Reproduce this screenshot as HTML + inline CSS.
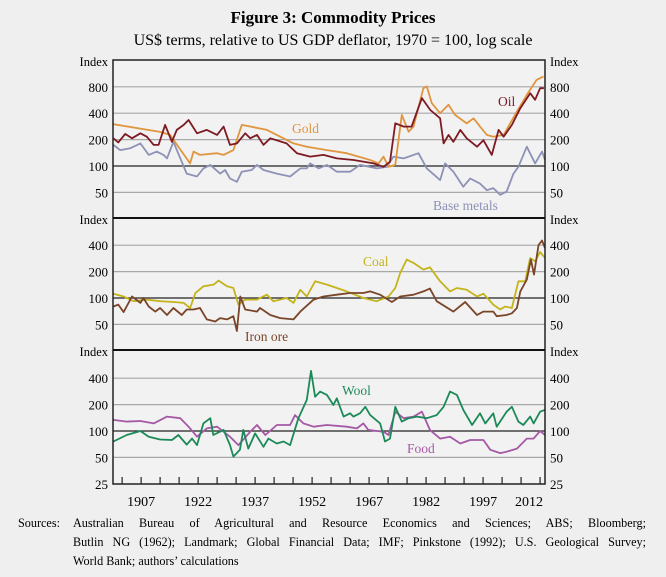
<!DOCTYPE html>
<html><head><meta charset="utf-8"><style>
html,body{margin:0;padding:0;background:#efefef;}
body{width:666px;height:577px;position:relative;overflow:hidden;font-family:"Liberation Serif",serif;color:#000;}
#title{position:absolute;left:0;width:666px;top:8px;text-align:center;font-weight:bold;font-size:17px;}
#subtitle{position:absolute;left:0;width:666px;top:32px;text-align:center;font-size:16px;}
#sources{position:absolute;left:18px;top:514px;width:628px;font-size:12.2px;line-height:19px;}
#sources .lab{position:absolute;left:0;top:0;}
#sources .txt{margin-left:55px;}
#sources .ln{text-align:justify;text-align-last:justify;white-space:nowrap;}
#sources .ln.last{text-align-last:left;}
svg{position:absolute;left:0;top:0;}
</style></head><body>
<div id="title">Figure 3: Commodity Prices</div>
<div id="subtitle">US$ terms, relative to US GDP deflator, 1970 = 100, log scale</div>
<svg id="chart" width="666" height="577"></svg>
<div id="sources"><span class="lab">Sources:</span><div class="txt"><div class="ln" style="white-space:normal">Australian Bureau of Agricultural and Resource Economics and Sciences; ABS; Bloomberg;</div><div class="ln" style="white-space:normal">Butlin NG (1962); Landmark; Global Financial Data; IMF; Pinkstone (1992); U.S. Geological Survey;</div><div class="ln last">World Bank; authors’ calculations</div></div></div>
<script>
const xTicks=[1907,1922,1937,1952,1967,1982,1997,2012];
const p1Ticks=[50,100,200,400,800];
const p2Ticks=[50,100,200,400];
const p3Ticks=[25,50,100,200,400];
const goldYears=[1899.7,1912,1914.6,1919.9,1920.8,1922.5,1927,1928.7,1931.3,1933.5,1935.7,1940.1,1942.7,1947.1,1950.6,1955.9,1961.1,1967.3,1969.5,1970.8,1972.1,1973.9,1975.6,1977.4,1978.7,1981.3,1982.2,1983.5,1985.7,1987.9,1989.6,1992.7,1994.5,1996.2,1998,1999.7,2002.4,2005.9,2008.5,2011.1,2012.9];
const goldVals=[300,245,226,107,146,134,140,134,152,294,282,258,226,181,166,152,140,117,107,128,98,103,383,246,281,772,808,520,400,500,383,306,350,281,226,216,226,417,646,960,1050];
const oilYears=[1899.7,1901,1902.8,1904.6,1906.8,1908.5,1910.3,1911.6,1913.3,1915.1,1916.4,1918.2,1919.5,1921.7,1924.3,1927,1928.7,1930.4,1932.2,1934.4,1935.7,1937.5,1939.2,1941,1945.3,1948,1951.5,1955,1958.5,1962.9,1968.2,1970.8,1972.5,1973.9,1976.1,1978.2,1980.9,1983.1,1985.7,1986.6,1987.9,1989.2,1991,1992.7,1995.4,1997.1,1999.3,2001.1,2002.4,2004.6,2006.8,2009.4,2010.7,2012,2013];
const oilVals=[207,186,232,207,236,216,174,174,294,189,258,294,335,236,258,226,281,174,181,236,207,226,174,207,181,140,128,134,122,117,107,98,112,307,281,281,594,435,350,181,226,189,258,207,166,197,134,258,216,294,456,676,568,772,772];
const metalYears=[1899.7,1901.5,1904.1,1906.8,1909,1911.1,1912.9,1913.8,1915.5,1919,1921.7,1923.4,1925.2,1927.8,1929.1,1930.4,1932.2,1933.5,1936.1,1937.5,1939.2,1942.7,1946.2,1948.9,1950.6,1951.5,1953.7,1955.9,1958.5,1962,1964.6,1969,1971.7,1973.4,1976.1,1980,1982.2,1985.7,1987,1989.2,1991.8,1993.6,1996.2,1998,1999.7,2001.5,2003.2,2005,2006.3,2008.5,2010.7,2012.5,2013.3];
const metalVals=[174,152,159,181,134,146,134,122,189,82,76,94,103,82,90,72,66,86,90,103,90,82,76,94,94,107,94,103,86,86,103,94,98,128,122,140,94,69,107,86,58,72,63,53,56,47,51,82,98,166,107,146,117];
const coalYears=[1899.7,1902.4,1905,1908.5,1912,1915.5,1918.2,1919.9,1921.3,1923.4,1926.1,1927.4,1929.6,1931.3,1932.6,1934.4,1937.5,1940.1,1941.8,1945.3,1947.1,1948.9,1950.6,1952.8,1955.9,1961.1,1965.5,1969,1972.1,1973.9,1975.2,1976.9,1978.7,1981.3,1983,1985.7,1988.3,1990.1,1992.7,1995.4,1997.1,1999.7,2001.5,2002.8,2004.6,2006.3,2008.1,2009.4,2010.7,2012,2013.3];
const coalVals=[112,104,92,96,92,90,88,77,114,136,142,158,136,130,84,96,96,109,92,100,88,124,104,155,142,119,100,92,104,130,193,274,251,211,224,155,119,130,124,104,112,84,74,80,77,155,155,286,262,335,286];
const ironYears=[1899.7,1901,1902.4,1904.6,1906.8,1907.6,1909,1910.7,1912,1913.8,1915.5,1917.7,1919,1920.8,1922.5,1924.3,1926.5,1927.8,1929.6,1931.3,1932.2,1933.1,1934.4,1937.5,1938.3,1941,1943.6,1947.1,1948.9,1952.4,1955,1958.5,1962,1965.5,1967.3,1969.9,1973,1975.2,1978.7,1981.3,1983,1984.8,1989.2,1992.3,1995.4,1997.1,1999.7,2000.6,2003.2,2004.6,2005.9,2006.8,2008.5,2009.6,2010.4,2011.6,2012.5,2013.3];
const ironVals=[80,84,69,104,88,100,80,70,77,64,77,64,74,74,77,57,54,59,57,62,42,104,74,70,77,64,59,57,70,96,104,109,114,114,119,109,90,104,109,119,128,92,70,90,64,70,70,62,64,67,77,119,162,274,185,400,452,372];
const woolYears=[1899.7,1903.2,1906.8,1909,1912,1915.1,1916.8,1919,1920.4,1921.7,1923.4,1925.2,1926,1928.7,1930.4,1931.3,1933,1933.9,1935.2,1937,1939.2,1940.5,1942.7,1944.5,1946.2,1948.4,1950.6,1951.7,1952.8,1954.1,1955.9,1957.6,1958.5,1960.3,1962,1962.9,1964.6,1966,1967.3,1969.9,1971.2,1972.5,1973.9,1975.6,1977.4,1979.6,1982.2,1984.8,1986.6,1988.3,1990.1,1991.8,1994.1,1996.2,1997.6,1999.7,2000.6,2003.2,2004.6,2006.3,2007.6,2009.4,2010.3,2012,2013.3];
const woolVals=[76,90,100,86,80,79,90,70,82,69,122,140,90,103,69,51,61,103,63,94,66,82,72,76,69,140,226,484,246,281,258,198,236,146,159,146,159,189,152,122,76,82,189,128,140,146,140,152,189,281,258,174,117,159,122,159,112,166,189,128,117,146,122,166,174];
const foodYears=[1899.7,1903.2,1906.8,1910.3,1913.8,1917.3,1919.5,1921.7,1924.3,1927,1930.4,1932.6,1935.7,1937.5,1939.7,1942.7,1946.2,1947.5,1949.7,1952.4,1955.9,1961.1,1963.8,1965.5,1966.8,1970.8,1972.1,1973.9,1976.1,1978.7,1980.9,1983,1985.7,1988.3,1991,1993.6,1997.1,1998.9,2001.5,2003.2,2005.9,2008.5,2010.3,2012,2013.3];
const foodVals=[134,128,130,122,146,140,112,86,107,112,86,69,98,117,90,117,117,152,122,112,117,112,107,122,103,98,90,166,140,146,166,103,82,86,72,79,79,61,56,58,63,82,82,100,90];

const svg=document.getElementById('chart');
const NS='http://www.w3.org/2000/svg';
const L=113,R=545,Y0=1899.6,Y1=2013.3;
const x=yr=>L+(yr-Y0)*(R-L)/(Y1-Y0);
const panels=[{top:60,bot:218,y100:166},{top:218,bot:350,y100:298},{top:350,bot:484,y100:431}];
const PX=26.4;
const yf=(p,v)=>panels[p].y100-Math.log2(v/100)*PX;
function mk(tag,attrs){const e=document.createElementNS(NS,tag);for(const k in attrs)e.setAttribute(k,attrs[k]);svg.appendChild(e);return e;}
mk('rect',{x:L,y:60,width:R-L,height:424,fill:'#f2f2f2'});
function grid(p,ticks){
  ticks.forEach(t=>{
    const y=yf(p,t);
    if(y>panels[p].top+2&&y<panels[p].bot-2){
      const g=mk('line',{x1:L,x2:R,y1:y,y2:y,stroke:t===100?'#222':'#a8a8a8','stroke-width':t===100?1.3:1.2});
      
      
    }
    const a=mk('text',{x:108,y:y+5,'text-anchor':'end','font-size':13,'font-family':'Liberation Serif, serif'});a.textContent=t;
    
    
    const b=mk('text',{x:550,y:y+5,'font-size':13,'font-family':'Liberation Serif, serif'});b.textContent=t;
    
    
  });
  const i1=mk('text',{x:108,y:panels[p].top+6,'text-anchor':'end','font-size':12.5,'font-family':'Liberation Serif, serif'});i1.textContent='Index';
  
  
  const i2=mk('text',{x:550,y:panels[p].top+6,'font-size':12.5,'font-family':'Liberation Serif, serif'});i2.textContent='Index';
  
  
}
grid(0,p1Ticks);grid(1,p2Ticks);grid(2,p3Ticks);
function series(p,years,vals,color,name){
  const d=years.map((yr,i)=>(i?'L':'M')+x(yr).toFixed(1)+','+yf(p,vals[i]).toFixed(1)).join('');
  const e=mk('path',{d:d,fill:'none',stroke:color,'stroke-width':1.8,'stroke-linejoin':'round'});
  
  
}
series(0,metalYears,metalVals,'#8d92b6','base-metals-line');
series(0,goldYears,goldVals,'#e0953f','gold-line');
series(0,oilYears,oilVals,'#7d1a22','oil-line');
series(1,coalYears,coalVals,'#c4b41c','coal-line');
series(1,ironYears,ironVals,'#7a4528','iron-ore-line');
series(2,foodYears,foodVals,'#a559a5','food-line');
series(2,woolYears,woolVals,'#1c8a58','wool-line');
function lab(t,xx,yy,c,name){const e=mk('text',{x:xx,y:yy,fill:c,'font-size':13.5,'font-family':'Liberation Serif, serif'});e.textContent=t;
  
  }
lab('Gold',292,133,'#e0953f','gold-label');
lab('Oil',498,106,'#7d1a22','oil-label');
lab('Base metals',433,210,'#8d92b6','base-metals-label');
lab('Coal',363,266,'#c4b41c','coal-label');
lab('Iron ore',245,341,'#7a4528','iron-ore-label');
lab('Wool',342,395,'#1c8a58','wool-label');
lab('Food',407,453,'#a559a5','food-label');
mk('rect',{x:L,y:60,width:R-L,height:424,fill:'none',stroke:'#222','stroke-width':1.5});
mk('line',{x1:L,x2:R,y1:218,y2:218,stroke:'#111','stroke-width':2});
mk('line',{x1:L,x2:R,y1:350,y2:350,stroke:'#111','stroke-width':2});
for(let yr=1902;yr<=2012;yr+=5){mk('line',{x1:x(yr),x2:x(yr),y1:484,y2:477,stroke:'#222','stroke-width':1.2});}
xTicks.forEach(yr=>{const xx=Math.min(x(yr),529);const e=mk('text',{x:xx,y:506,'text-anchor':'middle','font-size':14,'font-family':'Liberation Serif, serif'});e.textContent=yr;
  
  });
</script>
</body></html>
